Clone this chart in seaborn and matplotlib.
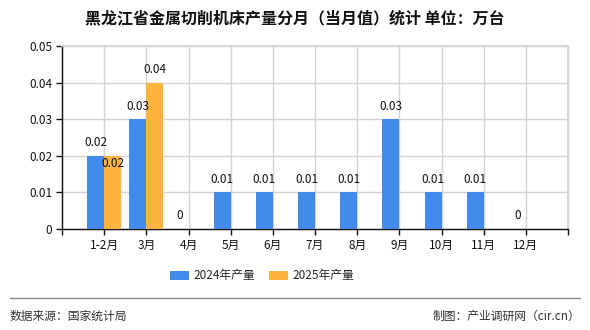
import matplotlib
matplotlib.use("Agg")
import matplotlib.pyplot as plt
import seaborn as sns
import pandas as pd
import numpy as np
from matplotlib.patches import Patch
from matplotlib.lines import Line2D

months = ["1-2月", "3月", "4月", "5月", "6月", "7月", "8月", "9月", "10月", "11月", "12月"]
values_2024 = [0.02, 0.03, 0, 0.01, 0.01, 0.01, 0.01, 0.03, 0.01, 0.01, 0]
values_2025 = [0.02, 0.04, None, None, None, None, None, None, None, None, None]
series_names = ["2024年产量", "2025年产量"]
colors = ["#428BEC", "#FDB43F"]
y_ticks = [0, 0.01, 0.02, 0.03, 0.04, 0.05]
y_tick_labels = ["0", "0.01", "0.02", "0.03", "0.04", "0.05"]
title = "黑龙江省金属切削机床产量分月（当月值）统计 单位：万台"
source_left = "数据来源：国家统计局"
source_right = "制图：产业调研网（cir.cn）"

rows = []
for m, v in zip(months, values_2024):
    rows.append({"month": m, "series": series_names[0], "value": v})
for m, v in zip(months, values_2025):
    if v is not None:
        rows.append({"month": m, "series": series_names[1], "value": v})
df = pd.DataFrame(rows)

sns.set_theme(style="white")
plt.rcParams["font.family"] = ["Noto Sans CJK SC", "DejaVu Sans"]

fig = plt.figure(figsize=(5.9, 3.3), dpi=100)
ax = fig.add_axes([62 / 590, 1 - 229 / 330, (568 - 62) / 590, (229 - 46) / 330])

sns.barplot(data=df, x="month", y="value", hue="series", order=months,
            hue_order=series_names, palette=colors, width=0.8, linewidth=0,
            saturation=1, legend=False, ax=ax, zorder=3)

ax.set_xlim(-1, len(months))
ax.set_ylim(0, 0.05)
ax.set_xticks(range(-1, len(months) + 1))
ax.set_xticklabels([""] + months + [""], fontsize=8.5, color="#111111")
ax.set_yticks(y_ticks)
ax.set_yticklabels(y_tick_labels, fontsize=8.5, color="#111111")
ax.set_xlabel("")
ax.set_ylabel("")
ax.grid(True, color="#d3d3d3", linewidth=1, zorder=0, clip_on=False)
ax.set_axisbelow(True)
ax.spines["top"].set_visible(True)
ax.spines["right"].set_visible(True)
ax.spines["top"].set_color("#d3d3d3")
ax.spines["right"].set_color("#d3d3d3")
for s in ["left", "bottom"]:
    ax.spines[s].set_color("#111111")
    ax.spines[s].set_linewidth(1)
ax.tick_params(axis="both", which="both", direction="out", length=4, width=1,
               color="#111111", pad=3, bottom=True, left=True)

# value labels
for ci, cont in enumerate(ax.containers):
    for bi, bar in enumerate(cont):
        h = bar.get_height()
        if np.isnan(h):
            continue
        x = bar.get_x() + bar.get_width() / 2
        label = "{:g}".format(h)
        off = 9.5
        # second series first bar label sits lower in reference
        if ci == 1 and bi == 0:
            off = -5.5
        ax.annotate(label, (x, h), xytext=(0, off), textcoords="offset points",
                    ha="center", va="center", fontsize=8.5, color="#111111",
                    zorder=5)

fig.text(295 / 590, 1 - 18 / 330, title, ha="center", va="center", fontsize=11.5,
         fontweight="bold", color="#111111")

handles = [Patch(facecolor=c, edgecolor="none") for c in colors]
fig.legend(handles, series_names, loc="center", bbox_to_anchor=(262 / 590, 1 - 276 / 330),
           ncol=2, frameon=False, fontsize=8.5, handlelength=1.6, handleheight=0.8,
           columnspacing=1.2, handletextpad=0.4)

fig.add_artist(Line2D([10 / 590, 580 / 590], [1 - 298 / 330, 1 - 298 / 330],
                      color="#888888", linewidth=1, transform=fig.transFigure))
fig.text(10 / 590, 1 - 316 / 330, source_left, ha="left", va="center", fontsize=8.5,
         color="#333333")
fig.text(580 / 590, 1 - 316 / 330, source_right, ha="right", va="center", fontsize=8.5,
         color="#333333")

fig.savefig("out.png", dpi=100)
